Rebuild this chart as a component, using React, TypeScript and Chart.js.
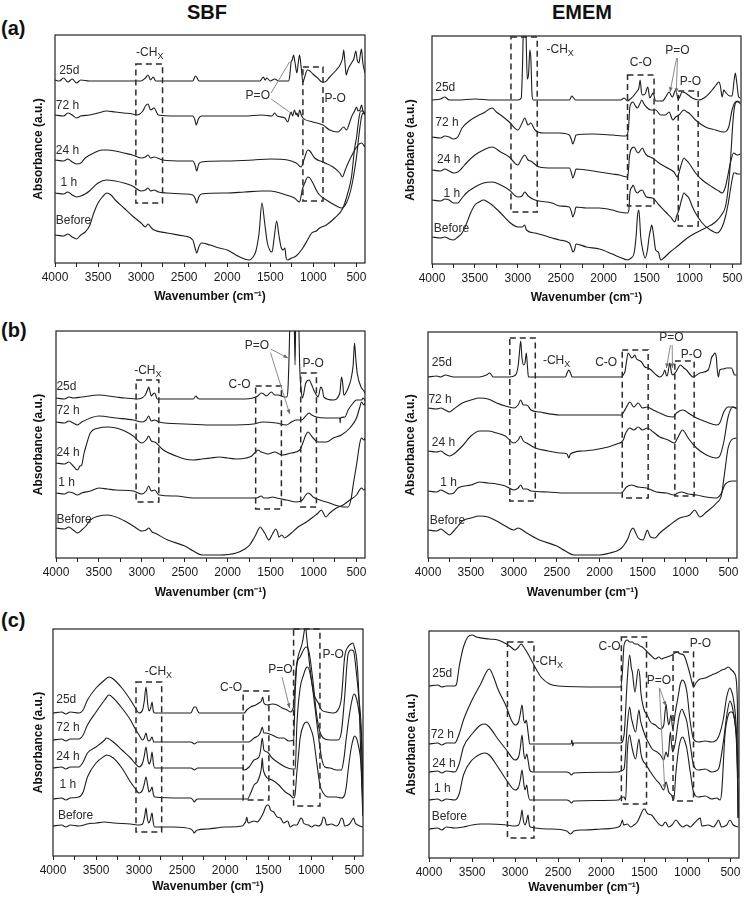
import { useEffect, useRef } from "react";
import { Chart, registerables } from "chart.js";
Chart.register(...registerables);

type Pt = [number, number];

// ---------- tick labels / categories ----------
const majorTicks = [4000, 3500, 3000, 2500, 2000, 1500, 1000, 500];
const minorTicks = [3750, 3250, 2750, 2250, 1750, 1250, 750];
const seriesNames = ["Before", "1 h", "24 h", "72 h", "25d"];

// ---------- (a) SBF ----------
const aSbfBefore: Pt[] = [[4000,28],[3900,27],[3850,29],[3800,26],[3750,24],[3700,28],[3650,31],[3600,37],[3550,50],[3500,60],[3450,66],[3400,70],[3350,68],[3300,63],[3200,55],[3100,47],[3000,40],[2950,36],[2920,39],[2880,35],[2850,33],[2700,30],[2500,27],[2400,23],[2370,14],[2355,10],[2330,16],[2300,20],[2200,18],[2094,15],[2000,13],[1900,8],[1800,4],[1745,3],[1700,6],[1667,12],[1630,30],[1597,60],[1565,40],[1534,20],[1500,12],[1480,11],[1455,25],[1426,42],[1400,28],[1375,16],[1349,13],[1330,15],[1316,5],[1300,3],[1250,5],[1200,7],[1130,14],[1067,23],[1020,30],[966,32],[927,35],[849,38],[752,45],[656,55],[600,70],[557,86],[520,115],[499,125],[470,145],[450,152],[421,152],[400,148]];
const aSbf1h: Pt[] = [[4000,70],[3900,69],[3850,71],[3800,68],[3750,66],[3700,67],[3650,69],[3600,72],[3500,80],[3400,83],[3300,82],[3200,80],[3100,77],[3000,72],[2950,73],[2920,75],[2890,72],[2850,73],[2800,71],[2700,70],[2500,69],[2400,68],[2370,64],[2355,60],[2330,66],[2300,69],[2000,70],[1800,71],[1600,72],[1500,72],[1316,68],[1219,65],[1160,61],[1140,68],[1129,73],[1100,80],[1063,86],[1040,85],[1005,80],[960,72],[927,68],[849,63],[752,58],[674,55],[616,60],[557,76],[499,106],[470,128],[441,146],[420,150],[400,148]];
const aSbf24h: Pt[] = [[4000,103],[3900,102],[3850,104],[3800,101],[3750,99],[3700,100],[3650,105],[3550,110],[3450,113],[3400,113],[3300,112],[3200,110],[3100,108],[3000,105],[2950,106],[2920,108],[2890,105],[2850,106],[2750,103],[2500,102],[2400,102],[2370,97],[2355,92],[2330,99],[2300,101],[2000,102],[1700,103],[1500,104],[1300,103],[1199,100],[1141,96],[1110,103],[1063,113],[1040,112],[985,105],[888,101],[771,96],[693,90],[662,86],[630,93],[596,100],[538,110],[480,118],[441,120],[400,116]];
const aSbf72h: Pt[] = [[4000,148],[3900,147],[3850,150],[3800,148],[3750,145],[3700,147],[3600,148],[3500,150],[3400,152],[3300,151],[3200,150],[3100,149],[3050,148],[2980,152],[2950,157],[2920,159],[2890,153],[2850,155],[2800,148],[2600,147],[2400,147],[2375,143],[2360,138],[2335,144],[2300,147],[2000,147],[1800,147],[1600,148],[1480,147],[1450,150],[1420,147],[1330,145],[1297,141],[1270,149],[1258,151],[1240,147],[1219,153],[1200,148],[1191,150],[1175,146],[1160,153],[1140,148],[1121,145],[1005,141],[888,138],[810,133],[713,131],[647,136],[616,133],[580,140],[557,146],[520,152],[499,156],[480,152],[460,153],[440,158],[421,151],[400,150]];
const aSbf25d: Pt[] = [[4000,183],[3950,182],[3900,185],[3850,181],[3800,184],[3750,180],[3700,183],[3600,182],[3400,182],[3200,182],[3000,182],[2950,185],[2920,188],[2890,183],[2860,186],[2830,182],[2400,182],[2370,187],[2350,185],[2330,182],[1800,182],[1620,182],[1580,186],[1560,183],[1540,185],[1500,182],[1450,184],[1400,182],[1290,182],[1277,185],[1265,195],[1258,201],[1245,203],[1230,208],[1212,200],[1191,190],[1175,200],[1160,208],[1140,195],[1121,181],[1100,186],[1070,193],[1040,192],[1005,189],[950,185],[900,181],[869,181],[810,186],[733,193],[690,198],[660,205],[647,213],[632,200],[618,188],[600,193],[557,200],[530,204],[507,212],[490,203],[470,200],[455,208],[441,214],[425,200],[400,190]];

// ---------- (a) EMEM ----------
const aEmemBefore: Pt[] = [[4000,27],[3900,26],[3850,27],[3800,25],[3750,24],[3700,27],[3650,31],[3600,40],[3550,51],[3500,59],[3450,62],[3400,64],[3350,62],[3300,59],[3200,51],[3100,42],[3000,37],[2950,37],[2920,39],[2900,34],[2800,31],[2600,26],[2515,24],[2400,21],[2375,16],[2360,12],[2340,14],[2322,20],[2200,17],[2051,15],[1900,10],[1819,7],[1722,4],[1680,6],[1645,11],[1620,30],[1606,48],[1590,54],[1568,27],[1540,12],[1517,6],[1490,14],[1471,27],[1450,36],[1440,39],[1420,30],[1394,14],[1363,12],[1336,4],[1300,6],[1239,11],[1123,19],[1026,26],[930,31],[814,36],[698,42],[620,50],[582,57],[550,75],[524,101],[500,135],[485,151],[465,161],[440,163],[407,160]];
const aEmem1h: Pt[] = [[4000,64],[3900,63],[3850,65],[3800,64],[3750,61],[3700,61],[3650,66],[3600,71],[3500,77],[3400,81],[3300,82],[3200,79],[3100,74],[3000,67],[2950,68],[2920,72],[2880,68],[2800,64],[2600,61],[2515,58],[2400,57],[2375,52],[2360,47],[2340,51],[2322,57],[2200,56],[2051,56],[1900,54],[1819,52],[1722,51],[1705,55],[1695,71],[1670,77],[1657,79],[1630,73],[1606,71],[1580,73],[1548,74],[1525,70],[1502,67],[1432,66],[1355,59],[1278,52],[1220,47],[1170,42],[1150,48],[1123,54],[1090,65],[1065,71],[1040,69],[1007,66],[970,58],[930,51],[852,41],[756,34],[679,31],[620,37],[582,47],[550,60],[524,74],[500,86],[485,91],[465,91],[446,90],[407,90]];
const aEmem24h: Pt[] = [[4000,94],[3900,93],[3850,95],[3800,93],[3750,91],[3700,92],[3650,96],[3600,101],[3500,109],[3400,114],[3300,117],[3200,112],[3100,107],[3000,99],[2950,106],[2920,109],[2880,104],[2850,103],[2750,97],[2600,96],[2515,96],[2400,96],[2375,91],[2360,86],[2340,90],[2322,95],[2200,94],[2051,92],[1900,90],[1819,89],[1722,87],[1710,95],[1703,104],[1684,114],[1645,117],[1620,113],[1595,111],[1570,114],[1548,116],[1525,112],[1502,109],[1432,106],[1355,101],[1278,97],[1181,92],[1142,87],[1120,92],[1104,97],[1065,106],[1040,104],[1007,101],[930,91],[852,84],[736,77],[660,73],[620,71],[582,77],[550,90],[524,101],[485,111],[446,109],[407,110]];
const aEmem72h: Pt[] = [[4000,127],[3900,126],[3850,128],[3800,127],[3750,125],[3700,127],[3650,136],[3550,144],[3450,149],[3400,151],[3300,156],[3250,152],[3200,149],[3100,142],[3000,134],[2950,141],[2920,146],[2880,139],[2850,141],[2800,134],[2700,131],[2515,131],[2400,129],[2375,124],[2360,120],[2340,124],[2322,129],[2128,130],[1900,129],[1742,128],[1711,135],[1695,157],[1657,162],[1630,158],[1606,156],[1580,160],[1556,164],[1530,160],[1502,157],[1452,154],[1394,154],[1336,149],[1278,149],[1239,152],[1193,144],[1162,147],[1123,149],[1065,154],[1030,152],[1007,151],[930,144],[814,137],[698,134],[601,132],[543,137],[504,154],[465,162],[407,162]];
const aEmem25d: Pt[] = [[4000,164],[3900,165],[3850,167],[3800,164],[3700,164],[3500,165],[3300,164],[3100,164],[3000,164],[2960,166],[2945,200],[2935,235],[2920,240],[2905,230],[2890,185],[2875,190],[2860,214],[2848,205],[2835,170],[2820,164],[2400,164],[2370,168],[2350,166],[2330,164],[1800,164],[1761,166],[1722,163],[1690,165],[1664,167],[1618,172],[1590,176],[1575,184],[1560,172],[1548,169],[1517,170],[1486,177],[1463,166],[1440,169],[1425,171],[1394,163],[1316,163],[1270,168],[1239,172],[1200,167],[1162,174],[1131,165],[1084,172],[1046,171],[968,166],[891,164],[814,167],[736,174],[690,179],[659,182],[640,178],[620,167],[600,174],[582,172],[530,168],[504,168],[480,184],[466,191],[450,182],[427,167],[407,166]];

// ---------- (b) SBF ----------
const bSbfBefore: Pt[] = [[4000,30],[3900,29],[3850,31],[3800,28],[3750,25],[3700,28],[3650,32],[3600,38],[3500,42],[3400,43],[3300,41],[3200,37],[3100,32],[3000,27],[2950,28],[2920,30],[2880,26],[2850,25],[2700,18],[2500,12],[2400,7],[2300,3],[2094,3],[1900,5],[1800,9],[1744,13],[1700,19],[1674,23],[1640,29],[1619,31],[1600,29],[1569,25],[1518,18],[1490,22],[1472,25],[1440,29],[1420,26],[1402,21],[1370,23],[1336,20],[1300,22],[1258,25],[1180,31],[1083,36],[1005,41],[946,45],[908,48],[880,44],[857,41],[810,45],[733,50],[655,53],[577,58],[499,63],[441,70],[413,68],[400,69]];
const bSbf1h: Pt[] = [[4000,65],[3900,64],[3850,66],[3800,65],[3750,63],[3700,65],[3600,67],[3500,70],[3400,69],[3300,68],[3100,67],[3000,64],[2950,67],[2920,72],[2890,67],[2850,68],[2800,63],[2600,62],[2400,60],[2100,60],[1700,60],[1666,60],[1608,62],[1580,60],[1530,60],[1480,61],[1433,60],[1316,58],[1199,56],[1129,58],[1090,63],[1063,65],[1040,64],[1005,61],[927,58],[849,56],[752,53],[655,51],[596,51],[560,60],[538,73],[499,93],[460,115],[441,120],[413,118],[400,120]];
const bSbf24h: Pt[] = [[4000,95],[3900,94],[3850,96],[3800,92],[3750,88],[3720,92],[3700,93],[3675,104],[3650,112],[3600,125],[3500,130],[3400,131],[3300,130],[3200,127],[3100,122],[3000,115],[2950,118],[2920,122],[2890,117],[2850,116],[2750,108],[2600,102],[2500,99],[2400,98],[2300,99],[2200,100],[2100,101],[2000,100],[1900,99],[1783,100],[1720,102],[1686,105],[1647,108],[1610,106],[1569,105],[1530,104],[1452,106],[1400,104],[1355,103],[1258,105],[1160,108],[1120,116],[1090,123],[1063,126],[1040,124],[1005,120],[946,116],[849,116],[771,120],[674,123],[577,130],[499,140],[460,151],[441,156],[413,153],[400,155]];
const bSbf72h: Pt[] = [[4000,136],[3900,135],[3850,137],[3800,135],[3750,133],[3700,136],[3500,142],[3300,140],[3100,138],[3000,136],[2950,138],[2920,142],[2890,137],[2850,138],[2800,136],[2500,134],[2200,133],[2000,133],[1700,134],[1588,136],[1433,135],[1316,133],[1258,136],[1199,138],[1141,138],[1090,142],[1052,145],[1020,143],[966,141],[849,140],[693,140],[690,135],[685,140],[635,141],[596,148],[538,155],[499,158],[441,158],[421,160],[400,157]];
const bSbf25d: Pt[] = [[4000,160],[3900,159],[3850,161],[3800,160],[3700,161],[3500,163],[3300,161],[3200,160],[3050,159],[2960,163],[2935,168],[2920,171],[2890,162],[2870,164],[2850,165],[2820,159],[2400,159],[2370,162],[2350,160],[2330,159],[1800,159],[1705,160],[1650,162],[1608,165],[1580,164],[1549,162],[1491,166],[1450,163],[1413,163],[1336,161],[1310,161],[1297,170],[1285,200],[1270,250],[1250,260],[1230,260],[1215,193],[1205,250],[1190,260],[1176,250],[1160,190],[1140,165],[1129,160],[1090,175],[1052,178],[1020,173],[997,168],[946,161],[915,171],[895,168],[880,161],[771,158],[693,165],[674,181],[660,175],[647,163],[596,170],[560,180],[538,193],[522,215],[508,200],[491,185],[441,170],[421,168],[400,165]];

// ---------- (b) EMEM ----------
const bEmemBefore: Pt[] = [[4000,28],[3900,27],[3850,29],[3800,26],[3750,23],[3700,27],[3650,32],[3600,37],[3500,40],[3400,42],[3300,41],[3200,37],[3100,32],[3000,28],[2950,30],[2920,29],[2850,25],[2700,18],[2500,12],[2400,7],[2300,3],[2000,3],[1881,5],[1800,7],[1745,10],[1700,15],[1668,20],[1640,27],[1610,30],[1580,25],[1551,20],[1493,18],[1465,24],[1446,28],[1420,23],[1408,21],[1357,20],[1299,25],[1183,33],[1066,40],[950,43],[892,48],[860,44],[833,41],[756,46],[639,55],[581,63],[543,86],[504,110],[465,118],[407,120]];
const bEmem1h: Pt[] = [[4000,67],[3900,66],[3850,68],[3800,66],[3750,64],[3700,65],[3650,70],[3500,73],[3400,76],[3300,75],[3200,74],[3100,72],[3000,68],[2950,70],[2920,73],[2890,69],[2850,69],[2800,67],[2600,66],[2400,65],[2000,65],[1800,65],[1745,65],[1715,68],[1687,71],[1629,73],[1590,72],[1551,71],[1454,70],[1338,66],[1222,65],[1132,63],[1090,65],[1047,66],[1000,65],[969,64],[872,63],[756,61],[639,60],[581,65],[543,73],[504,76],[446,77],[407,77]];
const bEmem24h: Pt[] = [[4000,107],[3900,106],[3850,107],[3800,104],[3750,102],[3700,104],[3600,112],[3500,122],[3400,127],[3300,127],[3200,125],[3100,122],[3000,115],[2950,118],[2920,122],[2890,117],[2850,115],[2750,110],[2600,107],[2463,105],[2380,104],[2360,100],[2340,104],[2200,107],[2075,108],[1900,111],[1800,114],[1745,116],[1720,119],[1706,123],[1648,130],[1602,128],[1551,131],[1501,128],[1446,130],[1377,126],[1299,121],[1202,118],[1132,115],[1086,121],[1035,128],[1010,126],[969,120],[872,110],[756,103],[639,100],[601,102],[554,116],[504,141],[446,151],[407,150]];
const bEmem72h: Pt[] = [[4000,150],[3900,149],[3850,150],[3800,148],[3750,146],[3700,149],[3600,155],[3500,158],[3400,160],[3300,159],[3200,155],[3100,152],[3000,150],[2950,153],[2920,158],[2890,153],[2850,153],[2800,148],[2700,146],[2463,143],[2000,143],[1745,143],[1720,146],[1687,151],[1648,156],[1602,151],[1551,155],[1501,150],[1446,151],[1377,148],[1299,145],[1222,142],[1144,141],[1105,145],[1035,148],[1000,147],[969,145],[872,140],[756,136],[639,133],[601,135],[554,146],[504,151],[446,151],[407,149]];
const bEmem25d: Pt[] = [[4000,181],[3900,182],[3850,181],[3800,183],[3700,181],[3400,181],[3320,183],[3280,185],[3240,181],[3050,181],[2980,183],[2950,192],[2935,205],[2920,217],[2905,200],[2885,193],[2870,195],[2855,205],[2840,190],[2830,181],[2400,181],[2375,186],[2360,188],[2340,185],[2320,181],[1800,181],[1745,181],[1720,184],[1706,186],[1690,195],[1668,205],[1650,203],[1629,200],[1610,201],[1590,203],[1570,199],[1551,198],[1512,196],[1474,191],[1435,190],[1400,188],[1377,186],[1340,183],[1299,181],[1260,184],[1241,188],[1225,183],[1214,182],[1195,190],[1183,195],[1165,186],[1152,183],[1113,186],[1080,191],[1058,193],[1020,190],[989,188],[950,184],[911,181],[833,185],[736,188],[710,195],[698,200],[675,203],[659,205],[640,200],[632,190],[620,182],[616,181],[601,188],[560,189],[523,190],[465,190],[426,183],[407,183]];

// ---------- (c) SBF ----------
const cSbfBefore: Pt[] = [[4000,30],[3900,31],[3850,29],[3800,31],[3700,30],[3600,32],[3500,33],[3400,34],[3300,33],[3100,32],[3000,31],[2960,32],[2935,40],[2920,48],[2905,38],[2890,33],[2870,36],[2850,43],[2835,33],[2820,29],[2600,29],[2400,27],[2375,25],[2360,23],[2340,25],[2320,26],[2200,27],[2000,29],[1800,30],[1780,32],[1760,35],[1750,39],[1740,35],[1734,33],[1704,34],[1665,35],[1627,34],[1589,38],[1558,43],[1531,49],[1512,51],[1490,50],[1474,46],[1436,44],[1397,39],[1359,38],[1321,33],[1275,35],[1245,29],[1206,31],[1168,31],[1140,35],[1122,38],[1100,36],[1091,33],[1034,31],[996,29],[957,31],[919,30],[880,33],[862,39],[840,37],[823,31],[766,32],[709,30],[680,32],[651,38],[630,36],[613,30],[556,32],[520,37],[510,38],[490,33],[460,31],[402,29]];
const cSbf1h: Pt[] = [[4000,57],[3900,58],[3850,56],[3800,58],[3700,59],[3650,64],[3600,79],[3500,93],[3400,100],[3380,101],[3300,98],[3200,88],[3100,74],[3050,68],[3000,63],[2960,66],[2940,72],[2920,79],[2900,70],[2885,64],[2865,66],[2850,69],[2835,62],[2820,59],[2500,58],[2400,58],[2375,56],[2360,54],[2340,56],[2320,57],[2000,57],[1800,57],[1742,57],[1704,63],[1665,71],[1627,74],[1597,81],[1580,88],[1570,98],[1560,88],[1551,84],[1512,78],[1455,76],[1378,71],[1302,64],[1245,61],[1206,58],[1188,62],[1168,84],[1150,100],[1130,118],[1091,131],[1053,134],[1015,129],[976,118],[938,94],[900,71],[862,63],[804,59],[709,59],[651,58],[613,61],[590,72],[575,84],[537,108],[510,118],[498,120],[460,113],[422,91],[410,70],[402,50]];
const cSbf24h: Pt[] = [[4000,88],[3900,89],[3850,87],[3800,89],[3700,89],[3650,94],[3600,103],[3500,109],[3400,116],[3380,118],[3300,114],[3200,106],[3100,98],[3050,93],[3000,89],[2960,93],[2940,100],[2920,109],[2900,97],[2885,92],[2865,96],[2850,104],[2835,93],[2820,88],[2400,88],[2375,87],[2360,86],[2340,87],[2320,88],[1800,88],[1780,86],[1723,89],[1665,96],[1608,99],[1589,106],[1570,118],[1551,106],[1512,104],[1455,98],[1378,93],[1302,89],[1225,87],[1187,87],[1168,131],[1130,168],[1091,181],[1061,188],[1042,189],[996,174],[957,148],[919,121],[881,98],[843,89],[785,88],[709,86],[651,86],[624,96],[594,118],[560,140],[530,155],[505,162],[485,160],[460,151],[422,121],[410,90],[402,60]];
const cSbf72h: Pt[] = [[4000,116],[3900,117],[3850,115],[3800,117],[3700,117],[3650,121],[3600,131],[3500,144],[3400,156],[3350,161],[3300,158],[3200,148],[3100,136],[3050,128],[3000,121],[2960,116],[2940,118],[2920,123],[2900,116],[2880,115],[2850,119],[2830,114],[2400,114],[2375,113],[2360,112],[2340,113],[2320,114],[1800,114],[1723,114],[1665,118],[1608,121],[1585,125],[1570,129],[1551,123],[1531,123],[1455,121],[1378,118],[1321,118],[1264,115],[1206,116],[1187,164],[1168,191],[1130,199],[1091,206],[1061,209],[1040,208],[1015,198],[976,171],[938,141],[900,124],[862,118],[785,116],[690,116],[651,124],[613,159],[575,201],[537,206],[510,205],[479,185],[448,158],[422,131],[410,100],[402,70]];
const cSbf25d: Pt[] = [[4000,143],[3900,144],[3850,142],[3800,144],[3700,143],[3650,146],[3600,156],[3500,168],[3400,176],[3350,179],[3300,177],[3200,168],[3100,156],[3050,149],[3000,143],[2960,146],[2940,155],[2920,169],[2900,152],[2885,145],[2865,148],[2850,154],[2835,145],[2820,143],[2400,143],[2375,147],[2360,149],[2340,149],[2320,145],[2300,143],[1800,143],[1780,143],[1750,146],[1704,149],[1646,151],[1608,153],[1580,155],[1565,159],[1551,153],[1512,151],[1455,152],[1397,151],[1340,148],[1283,146],[1240,144],[1215,147],[1206,150],[1176,188],[1149,201],[1122,208],[1100,215],[1080,226],[1068,230],[1053,218],[1015,188],[976,164],[919,153],[881,146],[823,144],[747,143],[690,146],[651,158],[613,199],[575,209],[540,212],[520,213],[498,208],[471,195],[448,161],[422,90],[402,40]];

// ---------- (c) EMEM ----------
const cEmemBefore: Pt[] = [[4000,29],[3900,30],[3850,28],[3800,31],[3700,30],[3600,31],[3500,33],[3400,34],[3300,34],[3100,33],[3000,32],[2960,33],[2935,40],[2920,48],[2905,38],[2885,33],[2870,36],[2850,43],[2835,33],[2820,31],[2600,29],[2400,27],[2375,25],[2360,24],[2340,25],[2320,27],[2200,28],[2000,29],[1800,31],[1774,33],[1754,38],[1740,33],[1697,34],[1658,31],[1620,33],[1581,36],[1543,43],[1516,48],[1493,49],[1475,46],[1455,44],[1416,43],[1370,38],[1331,34],[1293,32],[1255,36],[1216,31],[1178,33],[1132,38],[1093,34],[1055,31],[1005,33],[966,31],[928,34],[870,39],[850,40],[832,32],[755,33],[697,31],[660,35],[639,38],[601,31],[543,33],[505,38],[467,33],[409,31]];
const cEmem1h: Pt[] = [[4000,58],[3900,59],[3850,57],[3800,59],[3700,58],[3650,64],[3600,83],[3500,98],[3400,104],[3350,105],[3300,103],[3200,91],[3100,78],[3000,68],[2960,71],[2940,78],[2920,88],[2900,75],[2885,68],[2865,73],[2850,64],[2830,58],[2400,58],[2370,57],[2345,55],[2320,57],[1800,58],[1774,60],[1735,61],[1716,58],[1697,106],[1670,123],[1650,114],[1631,106],[1601,99],[1562,119],[1540,105],[1524,99],[1478,93],[1428,86],[1370,79],[1312,73],[1274,68],[1247,76],[1216,66],[1185,63],[1158,58],[1132,86],[1093,113],[1055,121],[1030,117],[1005,109],[966,86],[928,66],[870,61],[793,62],[716,59],[659,60],[620,58],[601,66],[563,123],[524,143],[500,146],[486,146],[448,136],[420,100],[409,40]];
const cEmem24h: Pt[] = [[4000,86],[3900,87],[3850,85],[3800,87],[3700,86],[3650,94],[3600,111],[3500,124],[3400,133],[3350,134],[3300,131],[3200,119],[3100,108],[3000,98],[2960,101],[2940,110],[2920,123],[2900,105],[2885,99],[2865,104],[2850,98],[2830,88],[2800,86],[2400,86],[2370,85],[2345,83],[2320,85],[1800,86],[1774,87],[1735,89],[1697,133],[1670,151],[1650,140],[1639,136],[1601,126],[1562,148],[1545,138],[1531,133],[1493,123],[1455,116],[1408,109],[1351,106],[1312,103],[1274,98],[1247,106],[1224,101],[1197,126],[1185,115],[1170,106],[1139,116],[1101,139],[1062,149],[1040,145],[1005,136],[966,113],[928,93],[870,88],[793,89],[716,86],[639,89],[582,116],[543,142],[505,157],[480,152],[467,146],[428,113],[415,70],[409,40]];
const cEmem72h: Pt[] = [[4000,114],[3900,115],[3850,113],[3800,115],[3700,115],[3650,124],[3600,138],[3500,158],[3400,174],[3300,189],[3250,181],[3200,169],[3100,151],[3050,139],[3000,133],[2960,136],[2940,144],[2920,153],[2900,138],[2885,135],[2870,138],[2850,126],[2830,114],[2400,114],[2350,114],[2340,118],[2330,112],[2320,115],[1800,115],[1774,115],[1735,123],[1697,179],[1670,203],[1650,190],[1639,186],[1608,166],[1570,189],[1550,180],[1543,169],[1505,149],[1466,143],[1428,136],[1370,133],[1312,129],[1274,133],[1247,154],[1230,140],[1216,133],[1189,143],[1170,129],[1139,146],[1100,165],[1082,174],[1055,178],[1030,175],[1005,166],[966,136],[928,119],[870,116],[793,117],[716,116],[639,121],[582,139],[543,161],[505,170],[480,165],[467,160],[428,123],[415,80],[409,40]];
const cEmem25d: Pt[] = [[4000,172],[3900,173],[3850,171],[3800,172],[3700,172],[3680,174],[3650,191],[3600,211],[3550,221],[3500,223],[3450,221],[3300,219],[3200,218],[3100,214],[3050,211],[3000,208],[2960,211],[2930,214],[2900,211],[2850,204],[2800,196],[2750,188],[2700,181],[2600,174],[2500,172],[2000,171],[1800,171],[1774,171],[1754,186],[1735,213],[1697,218],[1670,216],[1639,216],[1610,214],[1581,214],[1550,212],[1524,211],[1485,208],[1428,203],[1370,199],[1331,201],[1300,199],[1274,200],[1235,201],[1178,203],[1120,206],[1080,204],[1043,203],[985,189],[947,176],[928,171],[900,175],[870,178],[793,180],[716,183],[639,186],[600,188],[563,189],[524,191],[486,188],[448,184],[420,160],[409,80]];

// ---------- annotations (data coordinates) ----------
type Label = [string, number, number, CanvasTextAlign];
type Box = [number, number, number, number];
type Pointer = [number, number, number, number, number];
interface Ann { boxes: Box[]; labels: Label[]; chx: [number, number, CanvasTextAlign]; pointers: Pointer[] }

const annAL: Ann = {
  boxes: [[3061, 2751, 60, 199], [1121, 888, 62, 196]],
  labels: [["25d", 3950, 192, "left"], ["72 h", 3990, 157, "left"], ["24 h", 3990, 112, "left"], ["1 h", 3935, 80, "left"], ["Before", 3990, 42, "left"], ["P=O", 1645, 167, "center"], ["P-O", 870, 164, "left"]],
  chx: [2900, 210, "center"],
  pointers: [[1490, 170, 1277, 201, 0], [1490, 164, 1277, 151, 0]],
};
const annAR: Ann = {
  boxes: [[3080, 2774, 52, 227], [1722, 1413, 58, 189], [1131, 899, 38, 173]],
  labels: [["25d", 3962, 176, "left"], ["72 h", 3962, 141, "left"], ["24 h", 3942, 104, "left"], ["1 h", 3865, 70, "left"], ["Before", 3980, 35, "left"], ["C-O", 1568, 201, "center"], ["P=O", 1142, 213, "center"], ["P-O", 988, 182, "center"]],
  chx: [2666, 214, "left"],
  pointers: [[1150, 206, 1227, 172, 1], [1140, 206, 1154, 171, 1]],
};
const annBL: Ann = {
  boxes: [[3067, 2802, 56, 178], [1674, 1374, 49, 172], [1149, 966, 51, 185]],
  labels: [["25d", 3995, 171, "left"], ["72 h", 3995, 147, "left"], ["24 h", 3995, 105, "left"], ["1 h", 3975, 75, "left"], ["Before", 3995, 38, "left"], ["C-O", 1861, 173, "center"], ["P=O", 1658, 212, "center"], ["P-O", 1005, 194, "center"]],
  chx: [2930, 187, "center"],
  pointers: [[1500, 209, 1297, 200, 1], [1500, 205, 1277, 144, 1]],
};
const annBR: Ann = {
  boxes: [[3047, 2750, 57, 220], [1737, 1435, 60, 208], [1124, 899, 62, 197]],
  labels: [["25d", 3955, 195, "left"], ["72 h", 3995, 158, "left"], ["24 h", 3955, 115, "left"], ["1 h", 3857, 75, "left"], ["Before", 3980, 37, "left"], ["C-O", 1924, 195, "center"], ["P=O", 1163, 220, "center"], ["P-O", 930, 203, "center"]],
  chx: [2661, 197, "left"],
  pointers: [[1175, 213, 1222, 190, 1], [1155, 213, 1152, 190, 1]],
};
const annCL: Ann = {
  boxes: [[3036, 2738, 24, 174], [1792, 1493, 56, 165], [1206, 900, 50, 227]],
  labels: [["25d", 3962, 156, "left"], ["72 h", 3962, 128, "left"], ["24 h", 3962, 99, "left"], ["1 h", 3924, 71, "left"], ["Before", 3943, 40, "left"], ["C-O", 1933, 168, "center"], ["P=O", 1359, 186, "center"], ["P-O", 869, 201, "left"]],
  chx: [2776, 184, "center"],
  pointers: [[1340, 179, 1252, 148, 1]],
};
const annCR: Ann = {
  boxes: [[3089, 2781, 20, 216], [1766, 1474, 54, 221], [1166, 928, 57, 206]],
  labels: [["25d", 3962, 184, "left"], ["72 h", 3981, 123, "left"], ["24 h", 3962, 94, "left"], ["1 h", 3942, 69, "left"], ["Before", 3969, 41, "left"], ["C-O", 1775, 211, "right"], ["P=O", 1331, 177, "center"], ["P-O", 847, 214, "center"]],
  chx: [2762, 196, "left"],
  pointers: [[1320, 170, 1250, 152, 1], [1325, 170, 1262, 69, 1]],
};

// ---------- layout (page pixels) ----------
interface Geo { L: number; T: number; R: number; B: number; yTitleX: number; xTitleOff: number }
const FONT = '"Liberation Sans", Arial, Helvetica, sans-serif';

const panels: { geo: Geo; series: Pt[][]; ann: Ann }[] = [
  { geo: { L: 55, T: 35, R: 365, B: 263, yTitleX: 39, xTitleOff: 34 }, series: [aSbfBefore, aSbf1h, aSbf24h, aSbf72h, aSbf25d], ann: annAL },
  { geo: { L: 432, T: 36, R: 741, B: 264, yTitleX: 411, xTitleOff: 34 }, series: [aEmemBefore, aEmem1h, aEmem24h, aEmem72h, aEmem25d], ann: annAR },
  { geo: { L: 56, T: 331, R: 365, B: 558, yTitleX: 39, xTitleOff: 35 }, series: [bSbfBefore, bSbf1h, bSbf24h, bSbf72h, bSbf25d], ann: annBL },
  { geo: { L: 428, T: 332, R: 737, B: 558, yTitleX: 411, xTitleOff: 35 }, series: [bEmemBefore, bEmem1h, bEmem24h, bEmem72h, bEmem25d], ann: annBR },
  { geo: { L: 53, T: 629, R: 363, B: 856, yTitleX: 39, xTitleOff: 31 }, series: [cSbfBefore, cSbf1h, cSbf24h, cSbf72h, cSbf25d], ann: annCL },
  { geo: { L: 429, T: 631, R: 739, B: 858, yTitleX: 412, xTitleOff: 30 }, series: [cEmemBefore, cEmem1h, cEmem24h, cEmem72h, cEmem25d], ann: annCR },
];

function makeAnnPlugin(ann: Ann) {
  return {
    id: "ftirAnn",
    afterDatasetsDraw(chart: any) {
      const { ctx, chartArea: ca, scales } = chart;
      const xs = scales.x, ys = scales.y;
      const px = (v: number) => xs.getPixelForValue(v);
      const py = (v: number) => ys.getPixelForValue(v);
      ctx.save();
      // frame
      ctx.setLineDash([]);
      ctx.strokeStyle = "#222";
      ctx.lineWidth = 1.2;
      ctx.strokeRect(ca.left, ca.top, ca.right - ca.left, ca.bottom - ca.top);
      // dashed boxes
      ctx.setLineDash([6, 4]);
      ctx.lineWidth = 1.5;
      ctx.strokeStyle = "#2a2a2a";
      for (const [x1, x2, y1, y2] of ann.boxes) {
        const a = px(x1), b = px(x2), c = py(y2), d = py(y1);
        ctx.strokeRect(a, c, b - a, d - c);
      }
      // pointers
      ctx.setLineDash([]);
      ctx.strokeStyle = "#8a8a8a";
      ctx.fillStyle = "#6a6a6a";
      ctx.lineWidth = 1;
      for (const [x1, y1, x2, y2, arrow] of ann.pointers) {
        const ax = px(x1), ay = py(y1), bx = px(x2), by = py(y2);
        ctx.beginPath();
        ctx.moveTo(ax, ay);
        ctx.lineTo(bx, by);
        ctx.stroke();
        if (arrow) {
          const ang = Math.atan2(by - ay, bx - ax);
          const s = 5;
          ctx.beginPath();
          ctx.moveTo(bx, by);
          ctx.lineTo(bx - s * Math.cos(ang - 0.4), by - s * Math.sin(ang - 0.4));
          ctx.lineTo(bx - s * Math.cos(ang + 0.4), by - s * Math.sin(ang + 0.4));
          ctx.closePath();
          ctx.fill();
        }
      }
      // labels
      ctx.fillStyle = "#2b2b2b";
      ctx.textBaseline = "middle";
      ctx.font = `12px ${FONT}`;
      for (const [t, x, y, al] of ann.labels) {
        ctx.textAlign = al;
        ctx.fillText(t, px(x), py(y));
      }
      // -CHx
      const [cx, cy, cal] = ann.chx;
      ctx.font = `12px ${FONT}`;
      const w1 = ctx.measureText("-CH").width;
      ctx.font = `9px ${FONT}`;
      const w2 = ctx.measureText("X").width;
      let sx = px(cx);
      if (cal === "center") sx -= (w1 + w2) / 2;
      else if (cal === "right") sx -= w1 + w2;
      ctx.textAlign = "left";
      ctx.font = `12px ${FONT}`;
      ctx.fillText("-CH", sx, py(cy));
      ctx.font = `9px ${FONT}`;
      ctx.fillText("X", sx + w1, py(cy) + 4);
      ctx.restore();
    },
  };
}

function Panel({ geo, series, ann }: { geo: Geo; series: Pt[][]; ann: Ann }) {
  const ref = useRef<HTMLCanvasElement>(null);
  const canvasLeft = geo.yTitleX - 10;
  const padL = geo.L - canvasLeft;
  const padT = 6;
  const padR = 6;
  const padB = 46;
  const w = geo.R - canvasLeft + padR;
  const h = geo.B - geo.T + padT + padB;
  const yMax = geo.B - geo.T;

  useEffect(() => {
    const allTicks = [...majorTicks, ...minorTicks].sort((a, b) => a - b);
    const chart = new Chart(ref.current as HTMLCanvasElement, {
      type: "scatter",
      data: {
        datasets: series.map((s, i) => ({
          label: seriesNames[i],
          data: s.map(([x, y]) => ({ x, y })),
          showLine: true,
          borderColor: "#1d1d1d",
          borderWidth: 1.1,
          pointRadius: 0,
          pointHoverRadius: 0,
          cubicInterpolationMode: "monotone" as const,
          fill: false,
        })),
      },
      options: {
        animation: false,
        responsive: false,
        devicePixelRatio: 1,
        events: [],
        layout: { padding: { left: 0, top: padT, right: padR, bottom: 0 } },
        plugins: { legend: { display: false }, tooltip: { enabled: false } },
        scales: {
          x: {
            type: "linear",
            min: 400,
            max: 4000,
            reverse: true,
            afterBuildTicks: (ax: any) => {
              ax.ticks = allTicks.map((v) => ({ value: v }));
            },
            afterFit: (ax: any) => {
              ax.height = padB;
            },
            ticks: {
              autoSkip: false,
              maxRotation: 0,
              color: "#1a1a1a",
              padding: 3,
              font: { family: FONT, size: 12 },
              callback: (v: any) => (majorTicks.includes(Number(v)) ? String(v) : ""),
            },
            grid: { display: true, drawOnChartArea: false, drawTicks: true, tickLength: 4, color: "#222", lineWidth: 1 },
            border: { display: false },
            title: {
              display: true,
              text: "Wavenumber (cm\u207B\u00B9)",
              color: "#111",
              font: { family: FONT, size: 12, weight: "bold" },
              padding: { top: 0, bottom: padB - 7.2 - geo.xTitleOff },
            },
          },
          y: {
            type: "linear",
            min: 0,
            max: yMax,
            afterFit: (ax: any) => {
              ax.width = padL;
            },
            ticks: { display: false },
            grid: { display: false },
            border: { display: false },
            title: {
              display: true,
              text: "Absorbance (a.u.)",
              color: "#111",
              font: { family: FONT, size: 12, weight: "bold" },
              padding: { top: 2.8, bottom: 0 },
            },
          },
        },
      } as any,
      plugins: [makeAnnPlugin(ann)],
    });
    return () => chart.destroy();
  }, []);

  return (
    <canvas
      ref={ref}
      width={w}
      height={h}
      style={{ position: "absolute", left: canvasLeft, top: geo.T - padT, width: w, height: h }}
    />
  );
}

function Header({ text, x, y, size, align }: { text: string; x: number; y: number; size: number; align: "left" | "center" }) {
  const lh = Math.round(size * 1.2);
  const style: any = {
    position: "absolute",
    top: y - lh / 2,
    font: `bold ${size}px ${FONT}`,
    lineHeight: `${lh}px`,
    color: "#111",
    whiteSpace: "nowrap",
  };
  if (align === "center") {
    style.left = x - 100;
    style.width = 200;
    style.textAlign = "center";
  } else {
    style.left = x;
  }
  return <div style={style}>{text}</div>;
}

export default function App() {
  return (
    <div style={{ position: "absolute", left: 0, top: 0, width: 744, height: 902, overflow: "hidden", background: "#fff" }}>
      <Header text="SBF" x={207} y={12} size={20} align="center" />
      <Header text="EMEM" x={582} y={12} size={20} align="center" />
      <Header text="(a)" x={1} y={28} size={20} align="left" />
      <Header text="(b)" x={1} y={330} size={20} align="left" />
      <Header text="(c)" x={1} y={620} size={20} align="left" />
      {panels.map((p, i) => (
        <Panel key={i} geo={p.geo} series={p.series} ann={p.ann} />
      ))}
    </div>
  );
}
